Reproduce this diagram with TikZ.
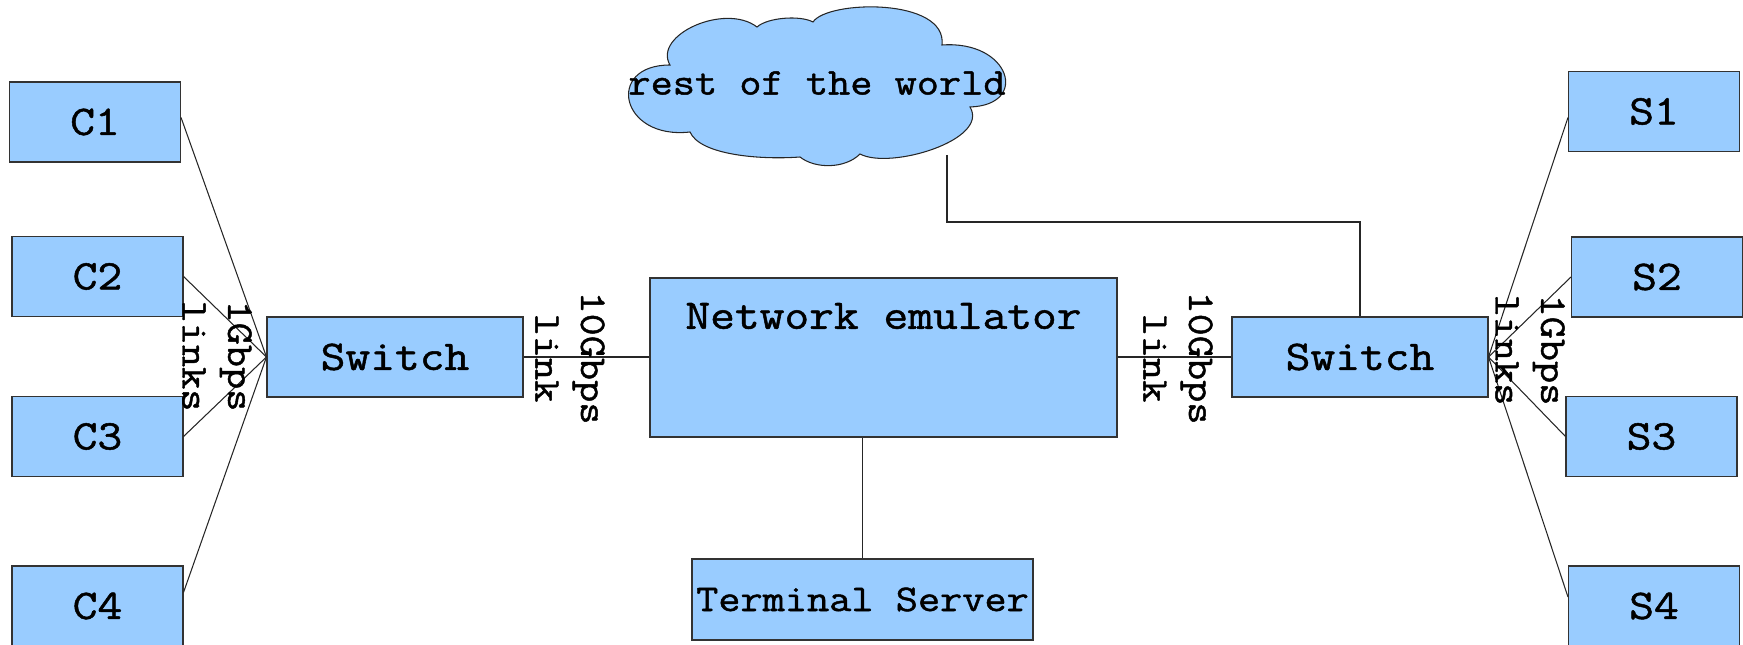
\documentclass[tikz,border=0pt]{standalone}
\usepackage{fontspec}
\setmonofont[FakeStretch=1.14, FakeBold=1.2]{Latin Modern Mono}
\usetikzlibrary{positioning}

\definecolor{boxblue}{RGB}{153,204,255}

\begin{document}
\begin{tikzpicture}[
  box/.style={draw=black!80, line width=0.6pt, fill=boxblue, inner sep=0pt,
    minimum width=3.42cm, minimum height=1.60cm,
    font=\ttfamily\fontsize{24}{28}\selectfont},
  linktext/.style={inner sep=0pt, align=center,
    font=\ttfamily\fontsize{21.5}{26}\selectfont},
  wire/.style={draw=black!85, line width=0.6pt}
]
\useasboundingbox (0,0) rectangle (34.860,12.900);

% the cloud
\draw[draw=black!85, line width=0.6pt, fill=boxblue]
  (13.40,11.60) .. controls (13.05,12.20) and (14.50,12.85) .. (15.14,12.36)
  .. controls (15.35,12.55) and (16.00,12.60) .. (16.26,12.46)
  .. controls (16.55,12.90) and (18.95,12.95) .. (18.84,12.00)
  .. controls (20.20,12.10) and (20.60,10.80) .. (19.40,10.76)
  .. controls (19.80,10.10) and (17.80,9.50) .. (17.20,9.82)
  .. controls (16.90,9.52) and (16.30,9.52) .. (16.00,9.76)
  .. controls (15.20,9.70) and (14.00,9.80) .. (13.80,10.26)
  .. controls (12.40,10.10) and (12.10,11.60) .. (13.40,11.60) -- cycle;
\node[linktext] (world) at (16.340,11.240) {rest of the world};
\coordinate (cloudfoot) at (18.940,9.800);

% clients
\node[box] (C1) at (1.900,10.460) {C1};
\node[box] (C2) at (1.950,7.370) {C2};
\node[box] (C3) at (1.950,4.170) {C3};
\node[box] (C4) at (1.950,0.780) {C4};

% servers
\node[box] (S1) at (33.080,10.670) {S1};
\node[box] (S2) at (33.140,7.360) {S2};
\node[box] (S3) at (33.030,4.170) {S3};
\node[box] (S4) at (33.080,0.780) {S4};

% switches, emulator, terminal server
\node[box, minimum width=5.12cm] (swL) at (7.900,5.760) {Switch};
\node[box, minimum width=5.12cm] (swR) at (27.200,5.760) {Switch};
\node[box, minimum width=9.34cm, minimum height=3.18cm] (emu) at (17.670,5.750) {};
\node[box, draw=none, fill=none, minimum width=0pt, minimum height=0pt]
  (emutext) [below=0.50cm of emu.north] {Network emulator};
\node[box, minimum width=6.82cm, minimum height=1.62cm,
  font=\ttfamily\fontsize{21.5}{26}\selectfont] (term) at (17.250,0.910) {Terminal Server};

% links
\draw[wire] (C1.3) -- (swL.west);
\draw[wire] (C2.east) -- (swL.west);
\draw[wire] (C3.east) -- (swL.west);
\draw[wire] (C4.9) -- (swL.west);
\draw[wire] (S1.184) -- (swR.east);
\draw[wire] (S2.west) -- (swR.east);
\draw[wire] (S3.west) -- (swR.east);
\draw[wire] (S4.174) -- (swR.east);
\draw[wire] (swL.east) -- (swL.east -| emu.west);
\draw[wire] (emu.east |- swR.west) -- (swR.west);
\draw[wire] (term.north) -- (term.north |- emu.south);
\draw[wire] (cloudfoot) -- ++(0,-1.340) -| (swR.north);

% link labels
\node[linktext, rotate=-90] (gigL) at (4.340,5.780) {1Gbps\\links};
\node[linktext, rotate=-90] (gigR) at (30.600,5.900) {1Gbps\\links};
\node[linktext, rotate=-90] (tenL) at (11.400,5.740) {10Gbps\\link};
\node[linktext, rotate=-90] (tenR) at (23.560,5.740) {10Gbps\\link};
\end{tikzpicture}
\end{document}
